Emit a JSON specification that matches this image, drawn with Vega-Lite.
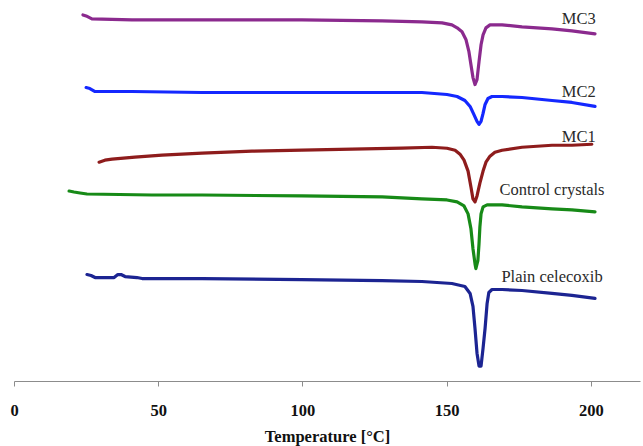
{
  "$schema": "https://vega.github.io/schema/vega-lite/v6.json",
  "width": 626,
  "height": 381,
  "padding": {"left": 9, "top": 0, "right": 5, "bottom": 3},
  "background": "white",
  "config": {"view": {"stroke": null}},
  "datasets": {
    "curves": [
      {"series": "MC3", "temperature": 23.9, "signal": 368},
      {"series": "MC3", "temperature": 25.0, "signal": 367},
      {"series": "MC3", "temperature": 27.0, "signal": 364},
      {"series": "MC3", "temperature": 40.9, "signal": 363},
      {"series": "MC3", "temperature": 65.2, "signal": 363},
      {"series": "MC3", "temperature": 99.8, "signal": 363},
      {"series": "MC3", "temperature": 127.6, "signal": 362},
      {"series": "MC3", "temperature": 141.4, "signal": 361},
      {"series": "MC3", "temperature": 148.4, "signal": 360},
      {"series": "MC3", "temperature": 151.8, "signal": 358},
      {"series": "MC3", "temperature": 153.6, "signal": 355},
      {"series": "MC3", "temperature": 155.3, "signal": 351},
      {"series": "MC3", "temperature": 156.7, "signal": 343},
      {"series": "MC3", "temperature": 157.7, "signal": 331},
      {"series": "MC3", "temperature": 158.4, "signal": 318},
      {"series": "MC3", "temperature": 159.1, "signal": 305},
      {"series": "MC3", "temperature": 159.8, "signal": 298},
      {"series": "MC3", "temperature": 160.5, "signal": 303},
      {"series": "MC3", "temperature": 161.2, "signal": 321},
      {"series": "MC3", "temperature": 161.9, "signal": 338},
      {"series": "MC3", "temperature": 162.6, "signal": 348},
      {"series": "MC3", "temperature": 163.6, "signal": 355},
      {"series": "MC3", "temperature": 165.0, "signal": 358},
      {"series": "MC3", "temperature": 169.2, "signal": 358},
      {"series": "MC3", "temperature": 176.1, "signal": 356},
      {"series": "MC3", "temperature": 186.5, "signal": 354},
      {"series": "MC3", "temperature": 193.4, "signal": 352},
      {"series": "MC3", "temperature": 201.4, "signal": 349},

      {"series": "MC2", "temperature": 25.0, "signal": 295},
      {"series": "MC2", "temperature": 26.3, "signal": 294},
      {"series": "MC2", "temperature": 28.1, "signal": 291},
      {"series": "MC2", "temperature": 40.9, "signal": 291},
      {"series": "MC2", "temperature": 65.2, "signal": 290},
      {"series": "MC2", "temperature": 99.8, "signal": 290},
      {"series": "MC2", "temperature": 127.6, "signal": 290},
      {"series": "MC2", "temperature": 141.4, "signal": 290},
      {"series": "MC2", "temperature": 150.1, "signal": 288},
      {"series": "MC2", "temperature": 153.6, "signal": 286},
      {"series": "MC2", "temperature": 156.3, "signal": 282},
      {"series": "MC2", "temperature": 158.1, "signal": 276},
      {"series": "MC2", "temperature": 159.4, "signal": 268},
      {"series": "MC2", "temperature": 160.5, "signal": 261},
      {"series": "MC2", "temperature": 161.2, "signal": 258},
      {"series": "MC2", "temperature": 161.9, "signal": 261},
      {"series": "MC2", "temperature": 162.6, "signal": 269},
      {"series": "MC2", "temperature": 163.3, "signal": 278},
      {"series": "MC2", "temperature": 164.3, "signal": 284},
      {"series": "MC2", "temperature": 165.7, "signal": 286},
      {"series": "MC2", "temperature": 169.2, "signal": 286},
      {"series": "MC2", "temperature": 176.1, "signal": 285},
      {"series": "MC2", "temperature": 186.5, "signal": 282},
      {"series": "MC2", "temperature": 193.4, "signal": 280},
      {"series": "MC2", "temperature": 201.4, "signal": 276},

      {"series": "MC1", "temperature": 29.5, "signal": 220},
      {"series": "MC1", "temperature": 31.5, "signal": 222},
      {"series": "MC1", "temperature": 34.0, "signal": 223},
      {"series": "MC1", "temperature": 41.9, "signal": 225},
      {"series": "MC1", "temperature": 51.3, "signal": 227},
      {"series": "MC1", "temperature": 65.2, "signal": 229},
      {"series": "MC1", "temperature": 82.5, "signal": 231},
      {"series": "MC1", "temperature": 99.8, "signal": 232},
      {"series": "MC1", "temperature": 117.2, "signal": 233},
      {"series": "MC1", "temperature": 134.5, "signal": 234},
      {"series": "MC1", "temperature": 144.9, "signal": 235},
      {"series": "MC1", "temperature": 150.1, "signal": 234},
      {"series": "MC1", "temperature": 152.9, "signal": 232},
      {"series": "MC1", "temperature": 154.6, "signal": 228},
      {"series": "MC1", "temperature": 156.0, "signal": 222},
      {"series": "MC1", "temperature": 157.4, "signal": 211},
      {"series": "MC1", "temperature": 158.4, "signal": 195},
      {"series": "MC1", "temperature": 159.1, "signal": 183},
      {"series": "MC1", "temperature": 159.8, "signal": 180},
      {"series": "MC1", "temperature": 160.5, "signal": 186},
      {"series": "MC1", "temperature": 161.5, "signal": 199},
      {"series": "MC1", "temperature": 162.6, "signal": 211},
      {"series": "MC1", "temperature": 163.6, "signal": 220},
      {"series": "MC1", "temperature": 165.0, "signal": 226},
      {"series": "MC1", "temperature": 166.7, "signal": 230},
      {"series": "MC1", "temperature": 169.2, "signal": 232},
      {"series": "MC1", "temperature": 176.1, "signal": 235},
      {"series": "MC1", "temperature": 186.5, "signal": 237},
      {"series": "MC1", "temperature": 193.4, "signal": 237},
      {"series": "MC1", "temperature": 200.3, "signal": 238},

      {"series": "Control crystals", "temperature": 19.1, "signal": 191},
      {"series": "Control crystals", "temperature": 20.8, "signal": 190},
      {"series": "Control crystals", "temperature": 22.9, "signal": 189},
      {"series": "Control crystals", "temperature": 25.3, "signal": 188},
      {"series": "Control crystals", "temperature": 47.8, "signal": 187},
      {"series": "Control crystals", "temperature": 65.2, "signal": 187},
      {"series": "Control crystals", "temperature": 99.8, "signal": 186},
      {"series": "Control crystals", "temperature": 127.6, "signal": 185},
      {"series": "Control crystals", "temperature": 141.4, "signal": 183},
      {"series": "Control crystals", "temperature": 150.1, "signal": 182},
      {"series": "Control crystals", "temperature": 153.6, "signal": 180},
      {"series": "Control crystals", "temperature": 156.0, "signal": 176},
      {"series": "Control crystals", "temperature": 157.4, "signal": 168},
      {"series": "Control crystals", "temperature": 158.4, "signal": 153},
      {"series": "Control crystals", "temperature": 159.1, "signal": 133},
      {"series": "Control crystals", "temperature": 159.8, "signal": 118},
      {"series": "Control crystals", "temperature": 160.1, "signal": 113},
      {"series": "Control crystals", "temperature": 160.8, "signal": 121},
      {"series": "Control crystals", "temperature": 161.2, "signal": 138},
      {"series": "Control crystals", "temperature": 161.5, "signal": 155},
      {"series": "Control crystals", "temperature": 161.9, "signal": 168},
      {"series": "Control crystals", "temperature": 162.6, "signal": 175},
      {"series": "Control crystals", "temperature": 164.0, "signal": 177},
      {"series": "Control crystals", "temperature": 169.2, "signal": 177},
      {"series": "Control crystals", "temperature": 176.1, "signal": 175},
      {"series": "Control crystals", "temperature": 186.5, "signal": 173},
      {"series": "Control crystals", "temperature": 193.4, "signal": 172},
      {"series": "Control crystals", "temperature": 201.4, "signal": 170},

      {"series": "Plain celecoxib", "temperature": 25.3, "signal": 107},
      {"series": "Plain celecoxib", "temperature": 26.7, "signal": 106},
      {"series": "Plain celecoxib", "temperature": 28.1, "signal": 104},
      {"series": "Plain celecoxib", "temperature": 34.7, "signal": 104},
      {"series": "Plain celecoxib", "temperature": 36.0, "signal": 107},
      {"series": "Plain celecoxib", "temperature": 37.1, "signal": 107},
      {"series": "Plain celecoxib", "temperature": 38.5, "signal": 105},
      {"series": "Plain celecoxib", "temperature": 42.6, "signal": 104},
      {"series": "Plain celecoxib", "temperature": 44.4, "signal": 103},
      {"series": "Plain celecoxib", "temperature": 65.2, "signal": 103},
      {"series": "Plain celecoxib", "temperature": 99.8, "signal": 102},
      {"series": "Plain celecoxib", "temperature": 127.6, "signal": 101},
      {"series": "Plain celecoxib", "temperature": 141.4, "signal": 100},
      {"series": "Plain celecoxib", "temperature": 151.8, "signal": 98},
      {"series": "Plain celecoxib", "temperature": 156.3, "signal": 95},
      {"series": "Plain celecoxib", "temperature": 158.1, "signal": 88},
      {"series": "Plain celecoxib", "temperature": 159.1, "signal": 75},
      {"series": "Plain celecoxib", "temperature": 159.8, "signal": 53},
      {"series": "Plain celecoxib", "temperature": 160.5, "signal": 28},
      {"series": "Plain celecoxib", "temperature": 161.2, "signal": 15},
      {"series": "Plain celecoxib", "temperature": 161.9, "signal": 15},
      {"series": "Plain celecoxib", "temperature": 162.6, "signal": 33},
      {"series": "Plain celecoxib", "temperature": 163.3, "signal": 53},
      {"series": "Plain celecoxib", "temperature": 164.0, "signal": 78},
      {"series": "Plain celecoxib", "temperature": 164.6, "signal": 89},
      {"series": "Plain celecoxib", "temperature": 165.7, "signal": 92},
      {"series": "Plain celecoxib", "temperature": 169.2, "signal": 92},
      {"series": "Plain celecoxib", "temperature": 176.1, "signal": 91},
      {"series": "Plain celecoxib", "temperature": 186.5, "signal": 88},
      {"series": "Plain celecoxib", "temperature": 193.4, "signal": 86},
      {"series": "Plain celecoxib", "temperature": 201.4, "signal": 83}
    ],
    "labels": [
      {"label": "MC3", "temperature": 195.8, "signal": 363.4},
      {"label": "MC2", "temperature": 195.8, "signal": 290.5},
      {"label": "MC1", "temperature": 195.8, "signal": 245.3},
      {"label": "Control crystals", "temperature": 186.5, "signal": 192},
      {"label": "Plain celecoxib", "temperature": 186.5, "signal": 104.5}
    ]
  },
  "layer": [
    {
      "data": {"name": "curves"},
      "mark": {"type": "line", "strokeWidth": 3.2, "interpolate": "linear", "strokeJoin": "round", "strokeCap": "round"},
      "encoding": {
        "x": {
          "field": "temperature", "type": "quantitative",
          "scale": {"domain": [0, 217], "nice": false, "zero": false},
          "axis": {
            "title": "Temperature [°C]",
            "values": [0, 50, 100, 150, 200],
            "grid": false,
            "domainColor": "#8c8c8c",
            "tickColor": "#8c8c8c",
            "tickSize": 5,
            "labelFont": "Liberation Serif",
            "labelFontWeight": "bold",
            "labelFontSize": 16.5,
            "labelColor": "#111111",
            "labelPadding": 16,
            "labelFlush": false,
            "titleFont": "Liberation Serif",
            "titleFontWeight": "bold",
            "titleFontSize": 16.5,
            "titleColor": "#111111",
            "titlePadding": 10
          }
        },
        "y": {
          "field": "signal", "type": "quantitative",
          "scale": {"domain": [0, 383], "nice": false, "zero": false},
          "axis": null
        },
        "color": {
          "field": "series", "type": "nominal",
          "scale": {
            "domain": ["MC3", "MC2", "MC1", "Control crystals", "Plain celecoxib"],
            "range": ["#8b2a8e", "#1428ff", "#8e1c1c", "#178a17", "#1c2492"]
          },
          "legend": null
        },
        "detail": {"field": "series"}
      }
    },
    {
      "data": {"name": "labels"},
      "mark": {"type": "text", "font": "Liberation Serif", "fontSize": 16.5, "color": "#2a2a2a", "align": "center", "baseline": "middle"},
      "encoding": {
        "x": {"field": "temperature", "type": "quantitative"},
        "y": {"field": "signal", "type": "quantitative"},
        "text": {"field": "label"}
      }
    }
  ]
}
